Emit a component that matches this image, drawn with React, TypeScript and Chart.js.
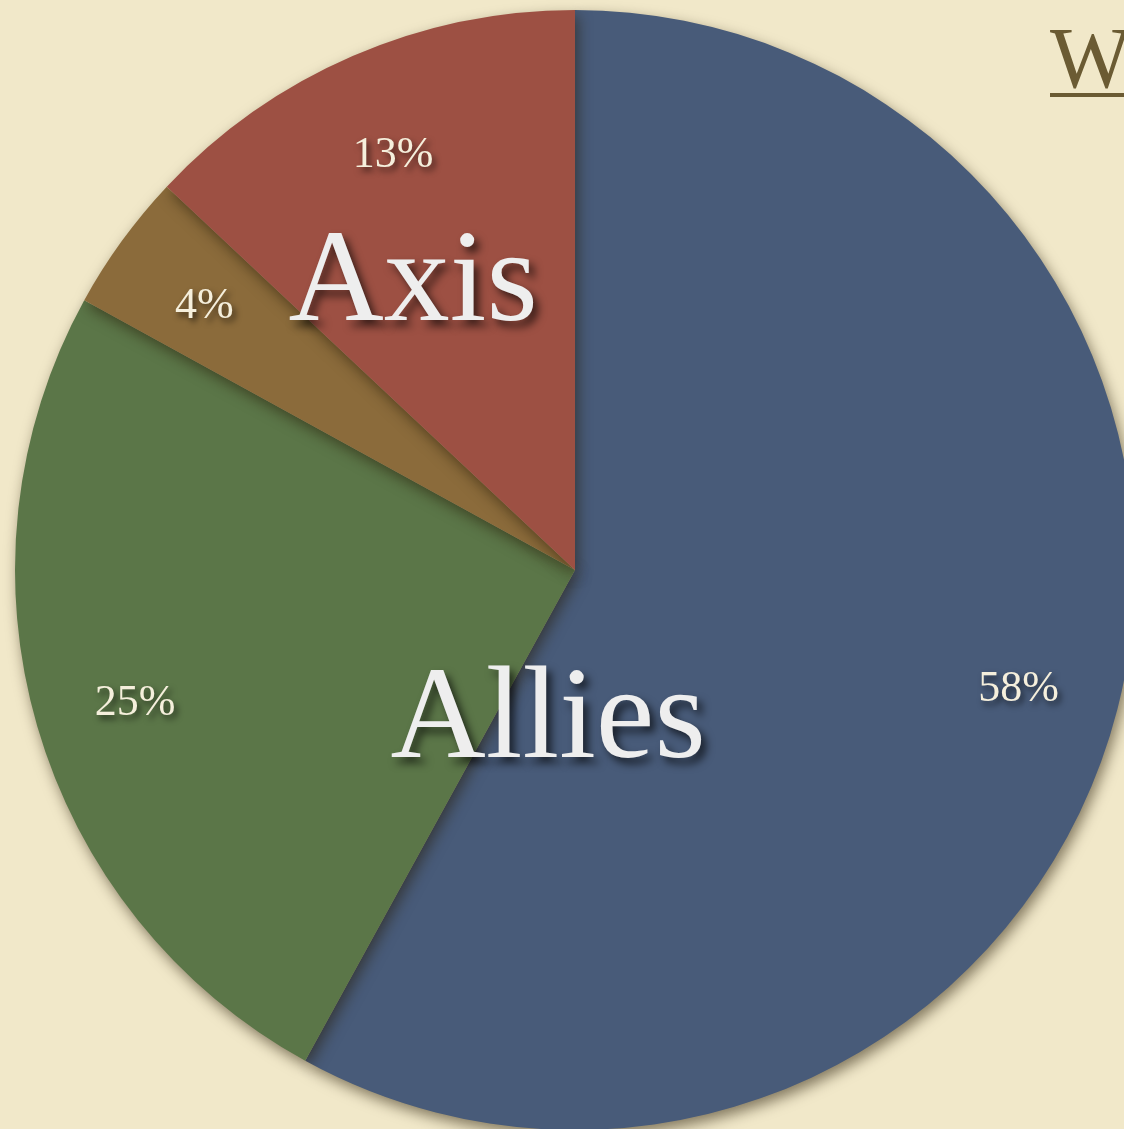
import React, { useEffect, useRef } from "react";
import { Chart, registerables } from "chart.js";

Chart.register(...registerables);

const categories = ["Allies A", "Allies B", "Axis A", "Axis B"];
const values = [58, 25, 4, 13];
const percentLabels = ["58%", "25%", "4%", "13%"];
const sliceColors = ["#485b79", "#5b7648", "#8b6b3b", "#9d5043"];
const groupLabels = ["Allies", "Axis"];
// group label offsets relative to pie centre, in units of radius
const groupOffsets = [
  [-0.048, 0.272],
  [-0.289, -0.509],
];
const titleText = "W";

const BG = "#f1e8c9";

const labelPlugin = {
  id: "customLabels",
  beforeDatasetsDraw(chart: any) {
    const ctx = chart.ctx;
    ctx.save();
    ctx.shadowColor = "rgba(40,30,10,0.55)";
    ctx.shadowBlur = 14;
    ctx.shadowOffsetX = 3;
    ctx.shadowOffsetY = 6;
  },
  afterDatasetsDraw(chart: any) {
    const ctx = chart.ctx;
    ctx.restore();
    const meta = chart.getDatasetMeta(0);
    const arcs = meta.data;
    if (!arcs.length) return;
    const cx = arcs[0].x;
    const cy = arcs[0].y;
    const R = arcs[0].outerRadius;
    ctx.save();
    ctx.textAlign = "center";
    ctx.textBaseline = "middle";
    ctx.shadowColor = "rgba(0,0,0,0.65)";
    ctx.shadowBlur = 6;
    ctx.shadowOffsetX = 3;
    ctx.shadowOffsetY = 4;
    ctx.fillStyle = "#f5efdc";
    ctx.font = "44px 'Liberation Serif', serif";
    arcs.forEach((arc: any, i: number) => {
      const mid = (arc.startAngle + arc.endAngle) / 2;
      const r = R * 0.818;
      ctx.fillText(percentLabels[i], cx + Math.cos(mid) * r, cy + Math.sin(mid) * r + 6);
    });
    ctx.fillStyle = "#eeeeee";
    ctx.font = "132px 'Liberation Serif', serif";
    ctx.shadowBlur = 8;
    ctx.shadowOffsetX = 5;
    ctx.shadowOffsetY = 6;
    groupLabels.forEach((g, i) => {
      ctx.fillText(g, cx + groupOffsets[i][0] * R, cy + groupOffsets[i][1] * R);
    });
    ctx.restore();
  },
};

export default function App() {
  const ref = useRef<HTMLCanvasElement | null>(null);
  useEffect(() => {
    if (!ref.current) return;
    const chart = new Chart(ref.current, {
      type: "pie",
      data: {
        labels: categories,
        datasets: [
          {
            data: values,
            backgroundColor: sliceColors,
            borderWidth: 0,
          },
        ],
      },
      options: {
        responsive: false,
        animation: false,
        layout: { padding: 20 },
        plugins: {
          legend: { display: false },
          tooltip: { enabled: false },
          title: { display: false },
        },
      },
      plugins: [labelPlugin],
    });
    return () => chart.destroy();
  }, []);

  return (
    <div
      style={{
        position: "fixed",
        left: 0,
        top: 0,
        width: 1124,
        height: 1129,
        overflow: "hidden",
        background: BG,
      }}
    >
      <canvas
        ref={ref}
        width={1160}
        height={1160}
        style={{ position: "absolute", left: -5, top: -10, width: 1160, height: 1160 }}
      />
      <div
        style={{
          position: "absolute",
          left: 1050,
          top: 15,
          fontFamily: "'Liberation Serif', serif",
          fontSize: 86,
          lineHeight: "86px",
          color: "#6b5b33",
          whiteSpace: "nowrap",
        }}
      >
        {titleText}
      </div>
      <div
        style={{
          position: "absolute",
          left: 1050,
          top: 93,
          width: 100,
          height: 4,
          background: "#6b5b33",
        }}
      />
    </div>
  );
}
